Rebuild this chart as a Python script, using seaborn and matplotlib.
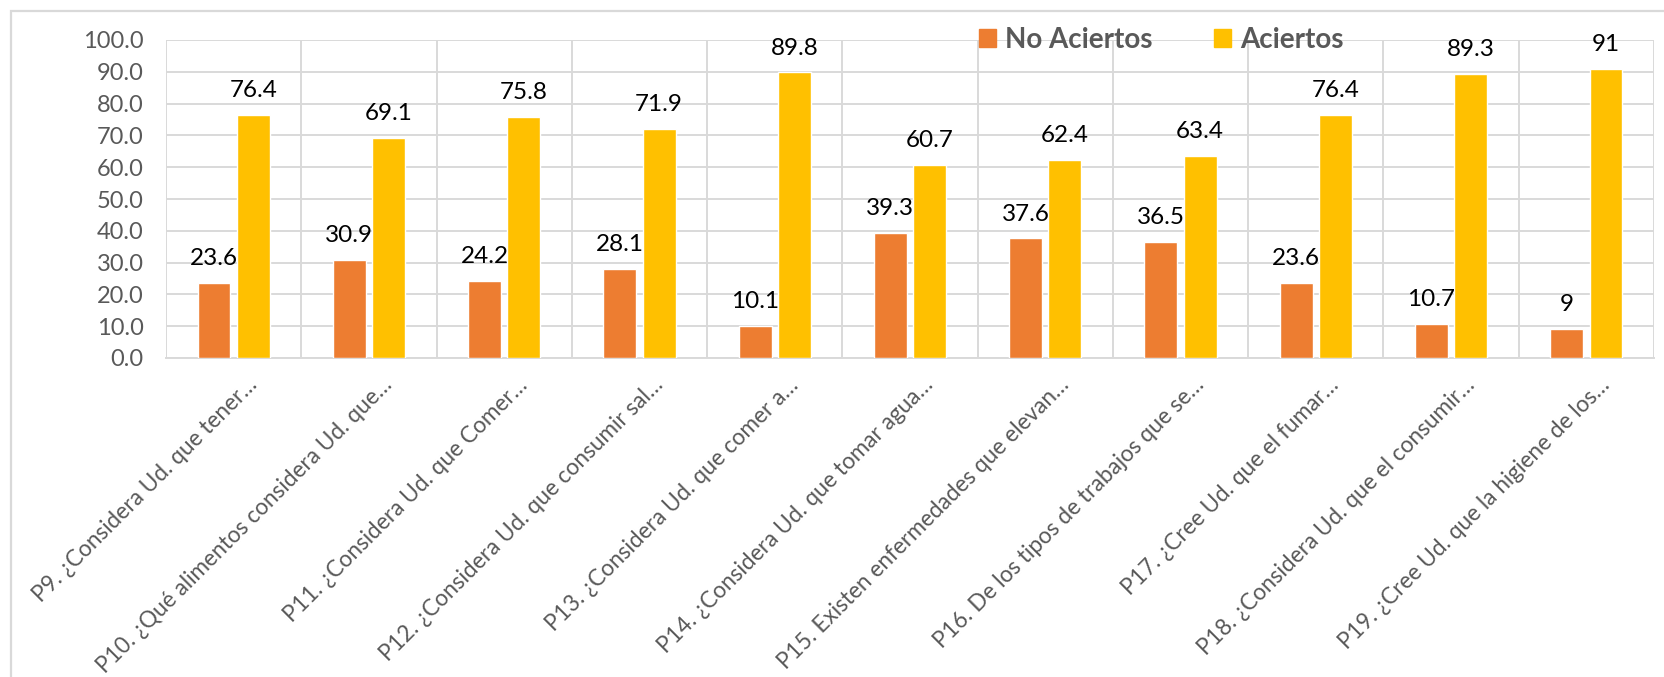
import matplotlib
matplotlib.use("Agg")
import matplotlib.pyplot as plt
import matplotlib.patches as mpatches
from matplotlib.transforms import ScaledTranslation
from matplotlib.ticker import FixedLocator, FuncFormatter
import seaborn as sns
import pandas as pd

preguntas = [
    "P9. ¿Considera Ud. que tener…",
    "P10. ¿Qué alimentos considera Ud. que…",
    "P11. ¿Considera Ud. que Comer…",
    "P12. ¿Considera Ud. que consumir sal…",
    "P13. ¿Considera Ud. que comer a…",
    "P14. ¿Considera Ud. que tomar agua…",
    "P15. Existen enfermedades que elevan…",
    "P16. De los tipos de trabajos que se…",
    "P17. ¿Cree Ud. que el fumar…",
    "P18. ¿Considera Ud. que el consumir…",
    "P19. ¿Cree Ud. que la higiene de los…",
]
no_aciertos = [23.6, 30.9, 24.2, 28.1, 10.1, 39.3, 37.6, 36.5, 23.6, 10.7, 9]
aciertos = [76.4, 69.1, 75.8, 71.9, 89.8, 60.7, 62.4, 63.4, 76.4, 89.3, 91]
series = ["No Aciertos", "Aciertos"]
colores = ["#ED7D31", "#FFC000"]

df = pd.DataFrame({
    "pregunta": preguntas * 2,
    "valor": no_aciertos + aciertos,
    "serie": [series[0]] * len(preguntas) + [series[1]] * len(preguntas),
})

sns.set_style("white")
plt.rcParams["font.family"] = ["Lato", "DejaVu Sans"]

W, H = 1665, 677
fig = plt.figure(figsize=(W / 100, H / 100), dpi=100)
ax = fig.add_axes([166 / W, 1 - 358 / H, (1654 - 166) / W, (358 - 40) / H])

grid_col = "#D9D9D9"
text_col = "#595959"

sns.barplot(data=df, x="pregunta", y="valor", hue="serie", palette=colores,
            width=0.58, gap=0.16, saturation=1, legend=False, ax=ax, zorder=3)

# value labels above each bar
for cont in ax.containers:
    ax.bar_label(cont, labels=[f"{b.get_height():g}" for b in cont],
                 padding=10, fontsize=17.5, color="black", clip_on=False)

ax.set_xlim(-0.5, len(preguntas) - 0.5)
ax.set_ylim(0, 100)
ax.set_yticks(range(0, 101, 10))
ax.yaxis.set_major_formatter(FuncFormatter(lambda v, p: f"{v:.1f}"))
ax.xaxis.set_minor_locator(FixedLocator([i - 0.5 for i in range(len(preguntas) + 1)]))
ax.grid(axis="y", which="major", color=grid_col, lw=1.4, zorder=0)
ax.grid(axis="x", which="minor", color=grid_col, lw=1.4, zorder=0)
ax.grid(axis="x", which="major", visible=False)
for s in ["top", "left", "right"]:
    ax.spines[s].set_visible(False)
ax.spines["bottom"].set_color(grid_col)
ax.spines["bottom"].set_linewidth(1.4)
ax.set_xlabel("")
ax.set_ylabel("")

ax.tick_params(axis="y", length=0, pad=16, labelsize=17, labelcolor=text_col)
ax.tick_params(axis="x", which="both", length=0, pad=17, labelsize=16.3,
               labelcolor=text_col)
shift = ScaledTranslation(20 / 100, 0, fig.dpi_scale_trans)
for lab in ax.get_xticklabels():
    lab.set_rotation(45)
    lab.set_ha("right")
    lab.set_va("center")
    lab.set_rotation_mode("anchor")
    lab.set_transform(lab.get_transform() + shift)

handles = [mpatches.Patch(color=c, label=s) for c, s in zip(colores, series)]
leg = fig.legend(handles=handles, loc="center left",
                 bbox_to_anchor=(979 / W, 1 - 40 / H), ncol=2, frameon=False,
                 borderpad=0, borderaxespad=0, handlelength=0.62,
                 handleheight=0.62, handletextpad=0.32, columnspacing=2.2,
                 prop={"size": 20, "weight": "bold"})
for t in leg.get_texts():
    t.set_color(text_col)

# outer chart frame
fig.patches.append(mpatches.Rectangle((11 / W, -0.1), 1.2, 1 - 11 / H + 0.1,
                                      transform=fig.transFigure, fill=False,
                                      edgecolor=grid_col, lw=1.6))

fig.savefig("out.png", dpi=100)
